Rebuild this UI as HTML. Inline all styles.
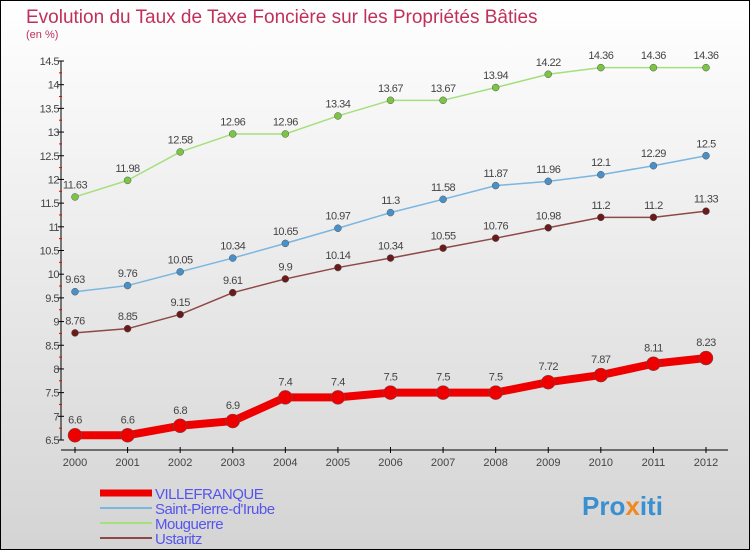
<!DOCTYPE html>
<html><head><meta charset="utf-8"><style>
body{margin:0;width:750px;height:550px;overflow:hidden;font-family:"Liberation Sans",sans-serif}
svg{display:block}
</style></head><body>
<svg id="chart" width="750" height="550" xmlns="http://www.w3.org/2000/svg">
<defs><linearGradient id="bg" x1="0" y1="0" x2="0" y2="1"><stop offset="0" stop-color="#ffffff"/><stop offset="1" stop-color="#d4d4d4"/></linearGradient></defs>
<rect x="0.5" y="0.5" width="749" height="549" fill="url(#bg)" stroke="#000"/>
<text x="26" y="23" font-size="19" fill="#c0305a">Evolution du Taux de Taxe Foncière sur les Propriétés Bâties</text>
<text x="26" y="38" font-size="11" fill="#c0305a">(en %)</text>
<g id="axes"></g><g id="series"></g><g id="legend"></g>
<text x="582" y="515" font-size="26" font-weight="bold" fill="#3a8fd0">Pro<tspan fill="#f08a20">x</tspan>iti</text>
</svg>
<script>
const years=[2000,2001,2002,2003,2004,2005,2006,2007,2008,2009,2010,2011,2012];
const yTicks=[6.5,7,7.5,8,8.5,9,9.5,10,10.5,11,11.5,12,12.5,13,13.5,14,14.5];
const villefranque=[6.6,6.6,6.8,6.9,7.4,7.4,7.5,7.5,7.5,7.72,7.87,8.11,8.23];
const saintPierre=[9.63,9.76,10.05,10.34,10.65,10.97,11.3,11.58,11.87,11.96,12.1,12.29,12.5];
const mouguerre=[11.63,11.98,12.58,12.96,12.96,13.34,13.67,13.67,13.94,14.22,14.36,14.36,14.36];
const ustaritz=[8.76,8.85,9.15,9.61,9.9,10.14,10.34,10.55,10.76,10.98,11.2,11.2,11.33];
const NS="http://www.w3.org/2000/svg";
const xS=i=>75+i*(706-75)/(years.length-1);
const yS=v=>440-(v-6.5)*(379/8);
function mk(t,a,p){const e=document.createElementNS(NS,t);for(const k in a)e.setAttribute(k,a[k]);p.appendChild(e);return e;}
const ax=document.getElementById('axes');
let l=mk('line',{x1:61,y1:yS(14.5),x2:61,y2:440,stroke:'#000'},ax);


l=mk('line',{x1:61,y1:450,x2:728,y2:450,stroke:'#000'},ax);


yTicks.forEach(v=>{const y=yS(v);mk('line',{x1:58,y1:y,x2:64,y2:y,stroke:'#000'},ax);
if(v<14.5)mk('line',{x1:59,y1:y-11.85,x2:62,y2:y-11.85,stroke:'#e00'},ax);
const t=mk('text',{x:59,y:y+4,'font-size':11,fill:'#444','text-anchor':'end','letter-spacing':'-0.5'},ax);t.textContent=v;

});
years.forEach((yr,i)=>{const x=xS(i);mk('line',{x1:x,y1:447,x2:x,y2:453,stroke:'#000'},ax);
const t=mk('text',{x:x,y:466,'font-size':11,fill:'#444','text-anchor':'middle'},ax);t.textContent=yr;

});
const sg=document.getElementById('series');
function series(vals,color,dot,w,r,name){const g=mk('g',{},sg);


mk('polyline',{points:vals.map((v,i)=>xS(i)+','+yS(v)).join(' '),fill:'none',stroke:color,'stroke-width':w,'stroke-linejoin':'round'},g);
vals.forEach((v,i)=>{const c=mk('circle',{cx:xS(i),cy:yS(v),r:r,fill:dot,stroke:'#555','stroke-width':0.5},g);


const t=mk('text',{x:xS(i),y:yS(v)-(r+5),'font-size':11,fill:'#444','text-anchor':'middle','letter-spacing':'-0.5'},g);t.textContent=v;

});}
series(mouguerre,'#a4e07c','#7cc444',1.5,3.5,'series-mouguerre');
series(saintPierre,'#7ab6e0','#4a90c8',1.5,3.5,'series-saint-pierre-d-irube');
series(ustaritz,'#8e4848','#6a1a1a',1.5,3.5,'series-ustaritz');
series(villefranque,'#ee0000','#ee0000',8,7,'series-villefranque');
const lg=document.getElementById('legend');
[['VILLEFRANQUE','#ee0000',7],['Saint-Pierre-d\'Irube','#7ab6e0',2],['Mouguerre','#a4e07c',2],['Ustaritz','#8e4848',2]].forEach((d,i)=>{const y=493+i*15;
const g=mk('g',{},lg);


mk('line',{x1:100,y1:y,x2:152,y2:y,stroke:d[1],'stroke-width':d[2]},g);
const t=mk('text',{x:155,y:y+6,'font-size':15,fill:'#5555ee','letter-spacing':'-0.5'},g);t.textContent=d[0];});
</script>
</body></html>
